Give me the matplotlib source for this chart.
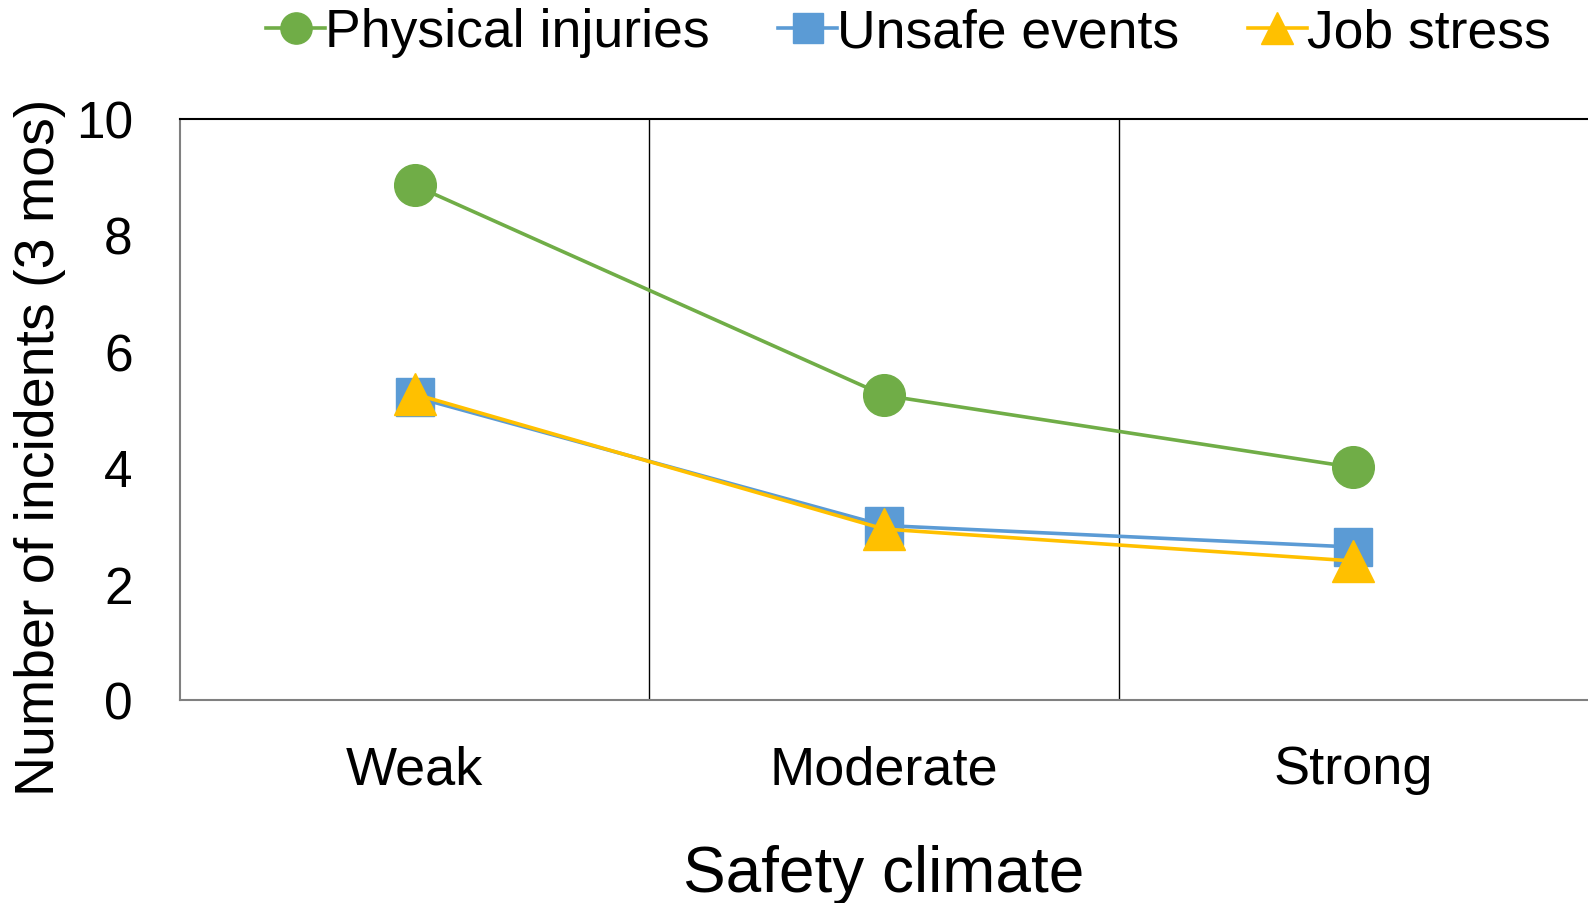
import matplotlib.pyplot as plt

plt.rcParams['font.family'] = ['Liberation Sans', 'DejaVu Sans']

categories = ['Weak', 'Moderate', 'Strong']
physical_injuries = [8.85, 5.24, 4.0]
unsafe_events = [5.21, 3.0, 2.63]
job_stress = [5.26, 2.94, 2.39]
y_ticks = [0, 2, 4, 6, 8, 10]

fig = plt.figure(figsize=(15.88, 9.04), dpi=100)
ax = fig.add_axes([0.1134, 0.2246, 0.8866, 0.6432])

x = list(range(len(categories)))
ax.plot(x, physical_injuries, color='#70AD47', lw=2.6, marker='o', ms=30,
        label='Physical injuries', zorder=3)
ax.plot(x, unsafe_events, color='#5B9BD5', lw=2.6, marker='s', ms=28,
        label='Unsafe events', zorder=3)
ax.plot(x, job_stress, color='#FFC000', lw=2.6, marker='^', ms=30,
        label='Job stress', zorder=4)

# category separators
for xv in [0.5, 1.5]:
    ax.axvline(xv, color='black', lw=1.0, zorder=1)

ax.set_xlim(-0.5, 2.5)
ax.set_ylim(0, 10)
ax.set_yticks(y_ticks)
ax.set_xticks(x)
ax.set_xticklabels(categories, fontsize=39)
ax.tick_params(axis='both', length=0)
ax.tick_params(axis='y', labelsize=37, pad=34)
ax.tick_params(axis='x', pad=32)

for side in ['left', 'bottom']:
    ax.spines[side].set_color('#808080')
    ax.spines[side].set_linewidth(1.5)
ax.spines['top'].set_color('black')
ax.spines['top'].set_linewidth(1.5)
ax.spines['right'].set_visible(False)

ax.set_xlabel('Safety climate', fontsize=46, labelpad=36)
ax.set_ylabel('Number of incidents (3 mos)', fontsize=40)
ax.yaxis.set_label_coords(-0.081, 0.436)

fig.legend(*ax.get_legend_handles_labels(), loc='center',
           bbox_to_anchor=(0.572, 0.963), ncol=3, frameon=False,
           fontsize=38.5, markerscale=0.75, handlelength=1.1, handletextpad=0.0,
           columnspacing=1.28, borderaxespad=0.0)

fig.savefig('out.png', dpi=100)
